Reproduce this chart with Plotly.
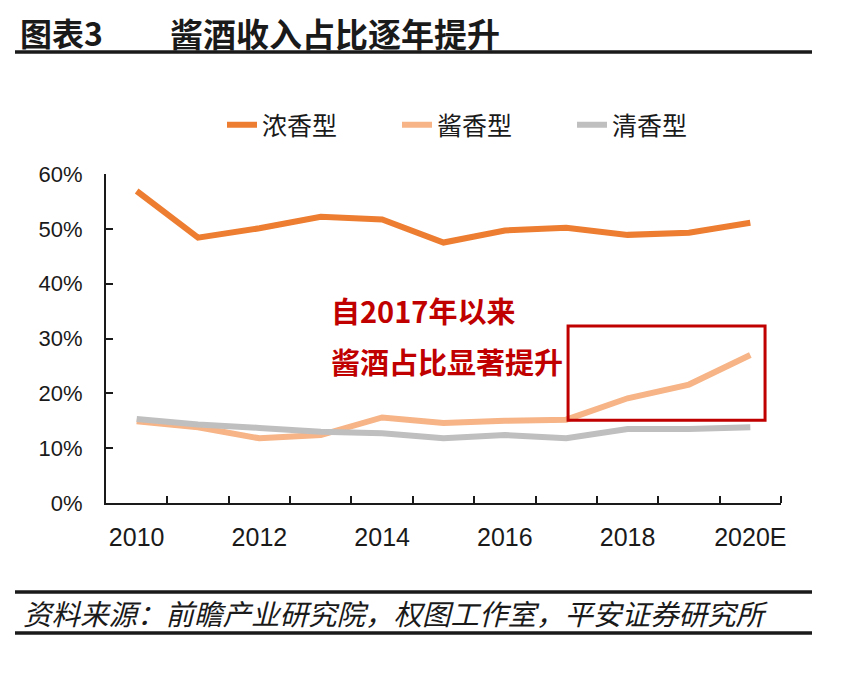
import plotly.graph_objects as go

years = ["2010", "2011", "2012", "2013", "2014", "2015", "2016", "2017", "2018", "2019", "2020E"]
tick_labels = ["2010", "2012", "2014", "2016", "2018", "2020E"]
nongxiang = [0.569, 0.484, 0.501, 0.522, 0.517, 0.475, 0.497, 0.502, 0.489, 0.493, 0.511]
jiangxiang = [0.149, 0.138, 0.118, 0.124, 0.156, 0.146, 0.150, 0.152, 0.191, 0.216, 0.270]
qingxiang = [0.153, 0.143, 0.137, 0.130, 0.127, 0.118, 0.124, 0.118, 0.135, 0.135, 0.138]

series_names = ["浓香型", "酱香型", "清香型"]
series_colors = ["#ED7D31", "#F6B487", "#BFBFBF"]

xi = list(range(len(years)))
tick_idx = [years.index(t) for t in tick_labels]

fig = go.Figure()
for name, vals, col in zip(series_names, [nongxiang, jiangxiang, qingxiang], series_colors):
    fig.add_trace(go.Scatter(x=xi, y=vals, mode="lines", name=name,
                             line=dict(color=col, width=6), hoverinfo="skip"))

# page has an 8px body margin; work in page coordinates
OFF = 8
W, H = 859, 700
PL, PR, PT, PB = 106, 781, 174, 503   # plot area in page px
L, T = PL - OFF, PT - OFF
pw, ph = PR - PL, PB - PT
R = W - L - pw
B = H - T - ph

def px(x):
    return (x - PL) / pw

def py(y):
    return (PB - y) / ph

cjk = "Noto Sans CJK SC"
latin = "Liberation Sans, Arial, " + cjk

fig.update_layout(
    width=W, height=H,
    margin=dict(l=L, r=R, t=T, b=B, pad=0),
    paper_bgcolor="white", plot_bgcolor="white",
    showlegend=True,
    legend=dict(orientation="h", x=px(222), xanchor="left", y=py(125), yanchor="middle",
                font=dict(family=cjk, size=25, color="#1a1a1a"),
                entrywidth=130, entrywidthmode="pixels", bgcolor="rgba(0,0,0,0)"),
    xaxis=dict(range=[-0.5, len(years) - 0.5], tickvals=tick_idx, ticktext=tick_labels,
               ticks="", showgrid=False, zeroline=False, showline=True,
               linecolor="#1a1a1a", linewidth=2,
               tickfont=dict(family=latin, size=25, color="#1a1a1a"),
               ticklabelstandoff=11,
               minor=dict(tickvals=[i + 0.5 for i in xi], ticks="inside", ticklen=7,
                          tickcolor="#1a1a1a", tickwidth=2, showgrid=False)),
    yaxis=dict(range=[0, 0.6], dtick=0.1, tickformat=".0%", ticks="inside", ticklen=7,
               tickcolor="#1a1a1a", tickwidth=2, showgrid=False, zeroline=False,
               showline=True, linecolor="#1a1a1a", linewidth=2,
               tickfont=dict(family=latin, size=22, color="#1a1a1a"),
               ticklabelstandoff=17),
)

red = "#C00000"
fig.add_shape(type="rect", xref="x", yref="y", x0=7.03, x1=10.24, y0=0.151, y1=0.323,
              line=dict(color=red, width=3), fillcolor="rgba(0,0,0,0)")

fig.add_annotation(text="自2017年以来", xref="paper", yref="paper", x=px(329), y=py(310),
                   xanchor="left", yanchor="middle", showarrow=False,
                   font=dict(family=cjk, size=29, color=red, weight="bold"))
fig.add_annotation(text="酱酒占比显著提升", xref="paper", yref="paper", x=px(329), y=py(361),
                   xanchor="left", yanchor="middle", showarrow=False,
                   font=dict(family=cjk, size=29, color=red, weight="bold"))

# Title (anchored to the figure's top edge so nothing is clipped)
fig.add_annotation(text="图表3", xref="paper", yref="paper", x=px(19), y=py(OFF),
                   xanchor="left", yanchor="top", showarrow=False, borderpad=0,
                   font=dict(family=cjk, size=32, color="#1a1a1a", weight="bold"))
fig.add_annotation(text="酱酒收入占比逐年提升", xref="paper", yref="paper", x=px(169), y=py(OFF),
                   xanchor="left", yanchor="top", showarrow=False, borderpad=0,
                   font=dict(family=cjk, size=33, color="#1a1a1a", weight="bold"))

# Footer
fig.add_annotation(text="<i>资料来源：前瞻产业研究院，权图工作室，平安证券研究所</i>", xref="paper", yref="paper",
                   x=px(21), y=py(612), xanchor="left", yanchor="middle", showarrow=False,
                   font=dict(family=cjk, size=28.5, color="#1a1a1a"))

for yy, lw in [(52, 3.5), (592, 3.5), (633, 3.5)]:
    fig.add_shape(type="line", xref="paper", yref="paper", x0=px(15), x1=px(812),
                  y0=py(yy), y1=py(yy), line=dict(color="#1a1a1a", width=lw))

fig.write_html("out.html")
